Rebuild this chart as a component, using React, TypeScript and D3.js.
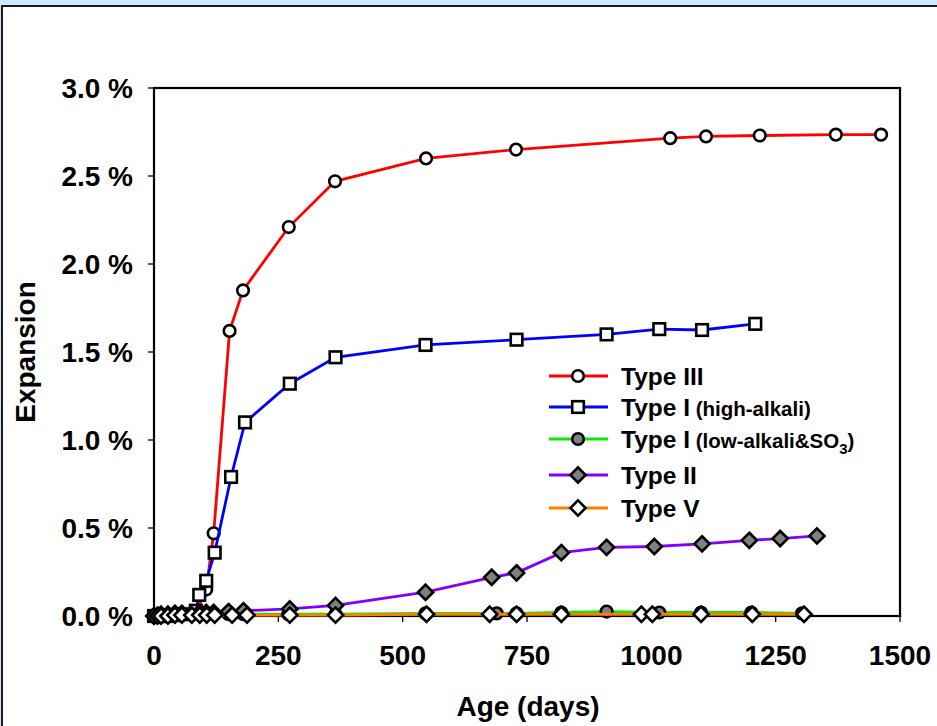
import React from 'react';
import * as d3 from 'd3';

// values (age in days, expansion in %)
const typeIIIDays = [0, 7, 14, 28, 42, 56, 84, 105, 120, 152, 179, 271, 364, 547, 728, 1038, 1110, 1218, 1371, 1462];
const typeIIIVals = [0, 0, 0, 0.005, 0.01, 0.01, 0.02, 0.15, 0.47, 1.62, 1.85, 2.21, 2.47, 2.60, 2.65, 2.715, 2.725, 2.73, 2.735, 2.735];

const typeIHighDays = [0, 7, 14, 28, 42, 56, 84, 91, 105, 122, 155, 183, 273, 365, 546, 729, 910, 1016, 1102, 1209];
const typeIHighVals = [0, 0, 0, 0, 0.005, 0.01, 0.03, 0.12, 0.2, 0.36, 0.79, 1.10, 1.32, 1.47, 1.54, 1.57, 1.60, 1.63, 1.625, 1.66];

const typeILowDays = [0, 7, 14, 28, 42, 56, 91, 105, 120, 150, 180, 270, 365, 546, 689, 729, 819, 910, 1016, 1100, 1201, 1303];
const typeILowVals = [0, 0, 0.005, 0.005, 0.01, 0.01, 0.01, 0.01, 0.01, 0.01, 0.01, 0.01, 0.01, 0.015, 0.015, 0.015, 0.02, 0.025, 0.02, 0.02, 0.02, 0.015];

const typeIIDays = [0, 7, 14, 28, 42, 56, 91, 105, 120, 150, 180, 273, 365, 546, 679, 729, 819, 910, 1006, 1102, 1197, 1259, 1333];
const typeIIVals = [0, 0.005, 0.01, 0.01, 0.015, 0.015, 0.02, 0.02, 0.02, 0.025, 0.03, 0.04, 0.06, 0.135, 0.22, 0.245, 0.36, 0.39, 0.395, 0.41, 0.43, 0.44, 0.455];

const typeVDays = [0, 7, 14, 28, 42, 56, 76, 92, 106, 122, 157, 187, 273, 365, 548, 675, 729, 819, 980, 1002, 1100, 1203, 1307];
const typeVVals = [0, 0, 0, 0, 0.005, 0.005, 0.005, 0.005, 0.005, 0.005, 0.005, 0.005, 0.005, 0.005, 0.01, 0.01, 0.01, 0.01, 0.01, 0.01, 0.01, 0.01, 0.01];

const xTicks = [0, 250, 500, 750, 1000, 1250, 1500];
const yTicks = [0, 0.5, 1.0, 1.5, 2.0, 2.5, 3.0];

type Marker = 'circle' | 'square' | 'diamond';
const series = [
  { name: 'Type III', sub: '', days: typeIIIDays, vals: typeIIIVals, color: '#ff0000', marker: 'circle' as Marker, fill: '#ffffff' },
  { name: 'Type I', sub: '(high-alkali)', days: typeIHighDays, vals: typeIHighVals, color: '#0000ff', marker: 'square' as Marker, fill: '#ffffff' },
  { name: 'Type I', sub: '(low-alkali&SO', days: typeILowDays, vals: typeILowVals, color: '#00ee00', marker: 'circle' as Marker, fill: '#808080' },
  { name: 'Type II', sub: '', days: typeIIDays, vals: typeIIVals, color: '#8000ff', marker: 'diamond' as Marker, fill: '#808080' },
  { name: 'Type V', sub: '', days: typeVDays, vals: typeVVals, color: '#ff8000', marker: 'diamond' as Marker, fill: '#ffffff' },
];

const W = 937;
const H = 726;
const margin = { left: 154, top: 88, right: 900, bottom: 616 };
const font = 'Arial, "Liberation Sans", Helvetica, sans-serif';

function MarkerShape({ kind, x, y, fill }: { kind: Marker; x: number; y: number; fill: string }) {
  const st = { fill, stroke: '#000', strokeWidth: 2.6 };
  if (kind === 'circle') return <circle cx={x} cy={y} r={5.8} {...st} />;
  if (kind === 'square') return <rect x={x - 5.8} y={y - 5.8} width={11.6} height={11.6} {...st} />;
  const r = 7.6;
  return <path d={`M${x},${y - r}L${x + r},${y}L${x},${y + r}L${x - r},${y}Z`} {...st} />;
}

export default function App() {
  const x = d3.scaleLinear().domain([0, 1500]).range([margin.left, margin.right]);
  const y = d3.scaleLinear().domain([0, 3]).range([margin.bottom, margin.top]);
  const line = d3.line<[number, number]>().x(d => x(d[0])).y(d => y(d[1]));

  const legendY = [376, 407, 439, 475, 508];

  return (
    <svg width={W} height={H} style={{ position: 'absolute', left: 0, top: 0, background: '#cce9fb' }} fontFamily={font}>
      <rect x={2} y={6} width={W + 20} height={H + 20} fill="#ffffff" stroke="#1a1a1a" strokeWidth={2} />

      {/* plot frame */}
      <rect x={margin.left} y={margin.top} width={margin.right - margin.left} height={margin.bottom - margin.top}
        fill="none" stroke="#000" strokeWidth={2.2} />

      {/* y axis */}
      {yTicks.map(t => (
        <g key={'y' + t}>
          <line x1={margin.left - 6} x2={margin.left} y1={y(t)} y2={y(t)} stroke="#000" strokeWidth={1.3} />
          <text x={133} y={y(t)} dy="0.36em" textAnchor="end" fontSize={28} fontWeight="bold">{t.toFixed(1)} %</text>
        </g>
      ))}
      {/* x axis */}
      {xTicks.map(t => (
        <g key={'x' + t}>
          <line x1={x(t)} x2={x(t)} y1={margin.bottom} y2={margin.bottom + 6} stroke="#000" strokeWidth={1.3} />
          <text x={x(t)} y={665} textAnchor="middle" fontSize={28} fontWeight="bold">{t}</text>
        </g>
      ))}

      <text x={528} y={716} textAnchor="middle" fontSize={28} fontWeight="bold">Age (days)</text>
      <text transform={`translate(35,352) rotate(-90)`} textAnchor="middle" fontSize={28} fontWeight="bold">Expansion</text>

      {/* series */}
      {series.map((s, i) => {
        const pts = s.days.map((d, j) => [d, s.vals[j]] as [number, number]);
        return (
          <g key={'s' + i}>
            <path d={line(pts) || ''} fill="none" stroke={s.color} strokeWidth={2.8} />
            {pts.map((p, j) => (
              <MarkerShape key={j} kind={s.marker} x={x(p[0])} y={y(p[1])} fill={s.fill} />
            ))}
          </g>
        );
      })}

      {/* legend */}
      {series.map((s, i) => (
        <g key={'l' + i}>
          <line x1={549} x2={608} y1={legendY[i]} y2={legendY[i]} stroke={s.color} strokeWidth={2.8} />
          <MarkerShape kind={s.marker} x={578} y={legendY[i]} fill={s.fill} />
          <text x={621} y={legendY[i]} dy="0.36em" fontSize={24.5} fontWeight="bold">
            {s.name}
            {s.sub && <tspan fontSize={20.5}>{' '}{s.sub}</tspan>}
            {i === 2 && <tspan fontSize={15} dy={6}>3</tspan>}
            {i === 2 && <tspan fontSize={20.5} dy={-6}>)</tspan>}
          </text>
        </g>
      ))}
    </svg>
  );
}
